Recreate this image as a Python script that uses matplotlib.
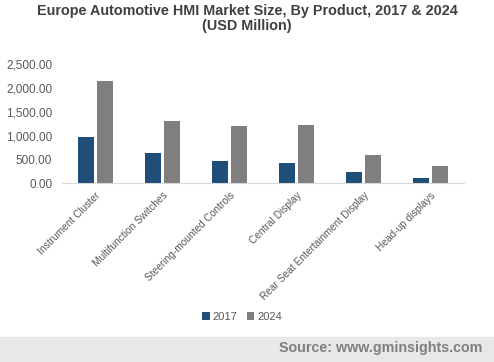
import numpy as np
import matplotlib
matplotlib.use("Agg")
import matplotlib.pyplot as plt

plt.rcParams['font.family'] = ['Liberation Sans', 'DejaVu Sans']

products = ["Instrument Cluster", "Multifunction Switches", "Steering-mounted Controls",
            "Central Display", "Rear Seat Entertainment Display", "Head-up displays"]
values_2017 = [965, 630, 465, 420, 230, 110]
values_2024 = [2150, 1305, 1200, 1215, 587, 363]
yticks = [0, 500, 1000, 1500, 2000, 2500]

fig = plt.figure(figsize=(4.94, 3.62), dpi=100)
ax = fig.add_axes([62/494, 1-183.3/362, (464-62)/494, (183.3-64)/362])

x = np.arange(len(products))
w = 0.24
ax.bar(x - w/2 - 0.02, values_2017, w, color="#1f4e79", label="2017")
ax.bar(x + w/2 + 0.02, values_2024, w, color="#7f7f7f", label="2024")

ax.set_xlim(-0.5, len(products) - 0.5)
ax.set_ylim(0, 2500)
ax.set_yticks(yticks)
ax.set_yticklabels(["{:,.2f}".format(v) for v in yticks], fontsize=8.5, color="#595959")
ax.set_xticks(x)
ax.set_xticklabels(products, rotation=45, ha="right", rotation_mode="anchor",
                   fontsize=7.3, color="#595959")
ax.tick_params(axis="y", length=0, pad=7)
ax.tick_params(axis="x", length=0, pad=5)
for s in ["top", "right", "left"]:
    ax.spines[s].set_visible(False)
ax.spines["bottom"].set_color("#d9d9d9")

fig.text(0.5, 0.99, "Europe Automotive HMI Market Size, By Product, 2017 & 2024\n(USD Million)",
         ha="center", va="top", fontsize=10.4, fontweight="bold", color="#404040",
         linespacing=1.15)

fig.legend(loc="center", bbox_to_anchor=(0.49, 1-317/362), ncol=2, frameon=False,
           fontsize=8, handlelength=0.7, handleheight=0.7, handletextpad=0.3,
           columnspacing=0.8, labelcolor="#595959")

# footer band
fig.patches.append(plt.Rectangle((0, 0), 1, 1-337/362, transform=fig.transFigure,
                                 color="#e8e8e8", zorder=0))
fig.text(0.977, 1-348/362, "Source: www.gminsights.com", ha="right", va="center",
         fontsize=10.3, fontweight="bold", color="#7f7f7f")

fig.savefig("out.png", dpi=100)
